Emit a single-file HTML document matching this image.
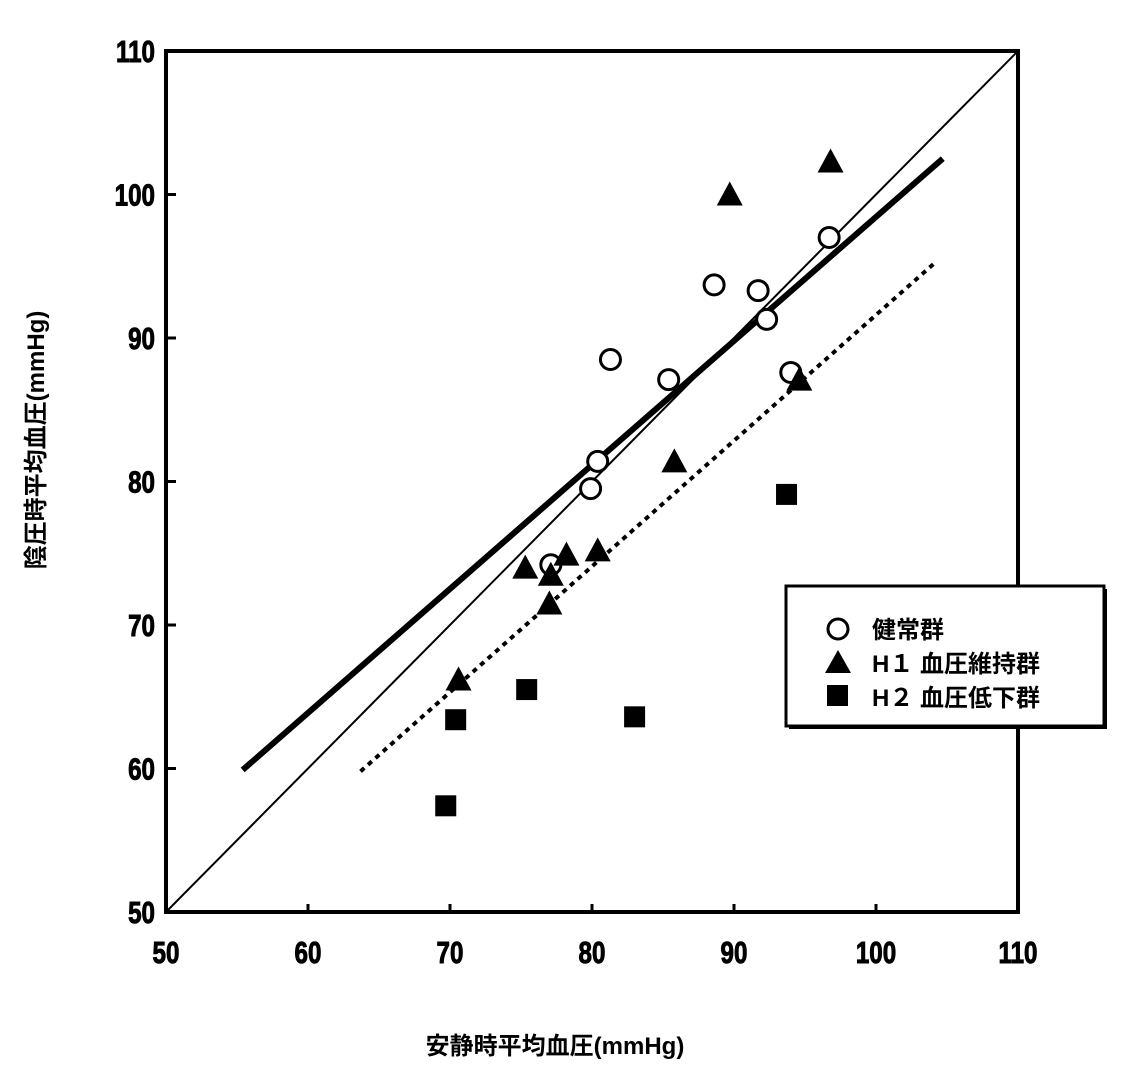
<!DOCTYPE html>
<html><head><meta charset="utf-8"><style>
body{margin:0;background:#fff;}
svg text{font-family:"Liberation Sans","Noto Sans CJK JP",sans-serif;}
</style></head><body>
<svg id="chart" width="1142" height="1075" xmlns="http://www.w3.org/2000/svg">
<rect x="166" y="51" width="852" height="861" fill="none" stroke="#000" stroke-width="4"/>
<g id="ticks"></g>
<g id="lines"></g>
<g id="marks"></g>
<text transform="translate(44,440) rotate(-90)" text-anchor="middle" font-size="24" font-weight="bold">陰圧時平均血圧(mmHg)</text>
<text x="555" y="1054" text-anchor="middle" font-size="24" font-weight="bold">安静時平均血圧(mmHg)</text>
<g>
<rect x="789" y="589" width="318" height="140" fill="#000"/>
<rect x="786" y="586" width="318" height="140" fill="#fff" stroke="#000" stroke-width="3"/>
<circle cx="838" cy="629" r="10" fill="#fff" stroke="#000" stroke-width="3"/>
<text x="872" y="638" font-size="24" font-weight="bold">健常群</text>
<polygon points="838,650 851,673 825,673" fill="#000"/>
<text x="872" y="672" font-size="24" font-weight="bold">H１ 血圧維持群</text>
<rect x="827" y="685" width="21" height="21" fill="#000"/>
<text x="872" y="706" font-size="24" font-weight="bold">H２ 血圧低下群</text>
</g>
</svg>
<script>
const xTicks=[50,60,70,80,90,100,110];
const yTicks=[50,60,70,80,90,100,110];
const normalX=[77.1,80.4,79.9,81.3,85.4,88.6,91.7,92.3,94.0,96.7];
const normalY=[74.2,81.4,79.5,88.5,87.1,93.7,93.3,91.3,87.6,97.0];
const h1X=[70.6,75.3,77.1,78.2,77.0,80.4,85.8,89.7,94.6,96.8];
const h1Y=[66.2,74.0,73.5,74.9,71.5,75.2,81.4,100.0,87.1,102.3];
const h2X=[70.4,75.4,69.7,83.0,93.7];
const h2Y=[63.4,65.5,57.4,63.6,79.1];
const solidFit=[[55.4,59.9],[104.7,102.5]];
const dottedFit=[[63.7,59.8],[104.1,95.2]];
const identity=[[50,50],[110,110]];
const sx=v=>166+(v-50)*14.2;
const sy=v=>912-(v-50)*14.35;
const NS="http://www.w3.org/2000/svg";
function mk(tag,parent,attrs){const e=document.createElementNS(NS,tag);for(const k in attrs)e.setAttribute(k,attrs[k]);document.getElementById(parent).appendChild(e);return e;}
xTicks.forEach(t=>{
 const l=mk('line','ticks',{x1:sx(t),x2:sx(t),y1:912,y2:904,stroke:'#000','stroke-width':3});
 
 
 const tx=mk('text','ticks',{x:sx(t),y:963,'text-anchor':'middle','font-size':31,'font-weight':'bold',stroke:'#000','stroke-width':1,transform:`translate(${sx(t)},0) scale(0.78,1) translate(${-sx(t)},0)`});
 tx.textContent=t;
 
 
});
yTicks.forEach(t=>{
 const l=mk('line','ticks',{x1:166,x2:176,y1:sy(t),y2:sy(t),stroke:'#000','stroke-width':3});
 
 
 const tx=mk('text','ticks',{x:155,y:sy(t)+11,'text-anchor':'end','font-size':31,'font-weight':'bold',stroke:'#000','stroke-width':1,transform:`translate(155,0) scale(0.78,1) translate(-155,0)`});
 tx.textContent=t;
 
 
});
function line(p,w,dash,name){
 const l=mk('line','lines',{x1:sx(p[0][0]),y1:sy(p[0][1]),x2:sx(p[1][0]),y2:sy(p[1][1]),stroke:'#000','stroke-width':w});
 if(dash)l.setAttribute('stroke-dasharray',dash);
 
 
}
line(identity,2,null,'identity-line');
line(solidFit,6,null,'normal-regression-line');
line(dottedFit,4,'5,5','h1-regression-line');
normalX.forEach((x,i)=>{
 const c=mk('circle','marks',{cx:sx(x),cy:sy(normalY[i]),r:10,fill:'#fff',stroke:'#000','stroke-width':3});
 
 
});
h1X.forEach((x,i)=>{
 const cx=sx(x),cy=sy(h1Y[i]);
 const p=mk('polygon','marks',{points:`${cx},${cy-13} ${cx+13},${cy+11} ${cx-13},${cy+11}`,fill:'#000'});
 
 
});
h2X.forEach((x,i)=>{
 const r=mk('rect','marks',{x:sx(x)-10.5,y:sy(h2Y[i])-10.5,width:21,height:21,fill:'#000'});
 
 
});
</script>
</body></html>
